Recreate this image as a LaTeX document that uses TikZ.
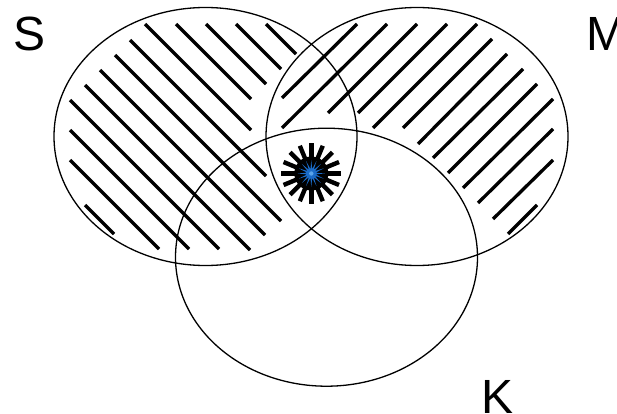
\documentclass[tikz,border=0pt]{standalone}
\usepackage{fontspec}
\setmainfont{Liberation Sans}
\usetikzlibrary{shapes.geometric}
\definecolor{starblue}{HTML}{1A6BC8}
\definecolor{starlight}{HTML}{5AA4EA}
\begin{document}
\begin{tikzpicture}[x=1pt,y=-1pt,
  setline/.style={draw=black,line width=1.3pt},
  hatch/.style={draw=black,line width=3.3pt,line cap=butt},
  setlabel/.style={inner sep=0pt,font=\fontsize{48}{52}\selectfont},
  spoke/.style={draw=black,line width=4.4pt,line cap=butt}]
\useasboundingbox[fill=white] (0,0) rectangle (617,414);
% hatching of S
\foreach \xa/\ya/\xb/\yb in {85/205/114/234, 70/160/159/249, 70/130/189/249,
  70/100/219/249, 85/85/250/250, 100/70/265/235, 115/55/281/221,
  130/40/266/176, 145/24/251/130, 176/24/251/99, 206/24/266/84,
  236/24/281/69, 266/24/296/54}
  \draw[hatch] (\xa,\ya) -- (\xb,\yb);
% hatching of M
\foreach \xa/\ya/\xb/\yb in {282/98/357/24, 282/128/387/24, 328/113/417/24,
  358/113/447/24, 373/128/477/24, 403/128/492/39, 418/144/507/54,
  433/158/523/69, 448/173/537/84, 463/188/553/99, 478/203/553/129,
  493/219/553/160, 508/234/537/205}
  \draw[hatch] (\xa,\ya) -- (\xb,\yb);
% circles
\node[setline,ellipse,minimum width=303pt,minimum height=258pt,inner sep=0pt] (S) at (205.5,136.5) {};
\node[setline,ellipse,minimum width=302pt,minimum height=258pt,inner sep=0pt] (M) at (417,136.5) {};
\node[setline,ellipse,minimum width=302pt,minimum height=258pt,inner sep=0pt] (K) at (326.5,257.2) {};
% star
\coordinate (c) at (311.3,173.5);
\fill[black] (c) circle (17);
\foreach \a in {0,22.5,...,337.5}
  \draw[spoke] (c) -- ++(\a:30);
\node[star,star points=16,star point ratio=3,minimum size=27pt,inner sep=0pt,fill=starblue] (st) at (c) {};
\fill[starlight] (c) circle (2.2);
% labels
\node[setlabel,anchor=base west] (lS) at (12.8,51) {S};
\node[setlabel,anchor=base west] (lM) at (586.5,50.7) {M};
\node[setlabel,anchor=base west] (lK) at (481.5,413.6) {K};
\end{tikzpicture}
\end{document}
